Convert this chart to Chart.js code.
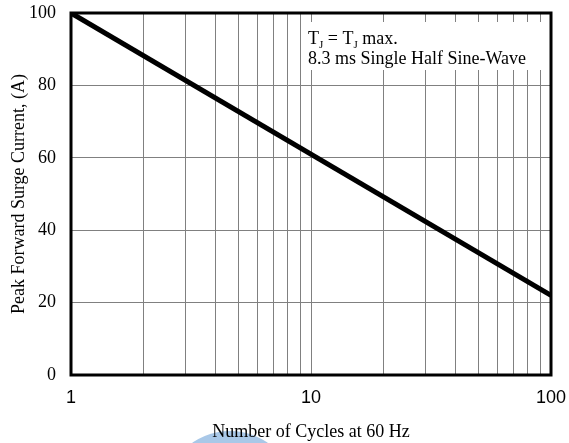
<!DOCTYPE html>
<html>
<head>
<meta charset="utf-8">
<script src="https://cdn.jsdelivr.net/npm/chart.js@4/dist/chart.umd.min.js"></script>
<style>
  html, body { margin: 0; padding: 0; background: #fff; }
  #wrap { width: 569px; height: 443px; }
</style>
</head>
<body>
<div id="wrap"><canvas id="myChart" width="569" height="443"></canvas></div>
<script>
// data
var cycles = [1, 100];
var surge = [100, 22];
var xTicks = [1, 2, 3, 4, 5, 6, 7, 8, 9, 10, 20, 30, 40, 50, 60, 70, 80, 90, 100];
var xLabels = [1, 10, 100];
var yTicks = [0, 20, 40, 60, 80, 100];
var noteLines = ['8.3 ms Single Half Sine-Wave'];

var serif = '"Liberation Serif", "Times New Roman", serif';
var sans = '"Liberation Sans", Arial, sans-serif';

var points = cycles.map(function(c, i) { return { x: c, y: surge[i] }; });

// blue blob behind the x title + frame + note box
var extras = {
    id: 'extras',
    beforeDraw: function(chart) {
        var c = chart.ctx;
        c.save();
        c.fillStyle = '#a9c8e8';
        c.beginPath();
        c.arc(230, 497, 66, 0, Math.PI * 2);
        c.fill();
        c.restore();
    },
    afterDatasetsDraw: function(chart) {
        var c = chart.ctx, a = chart.chartArea;
        c.save();
        // note box
        c.fillStyle = '#fff';
        c.fillRect(303, 22, 243, 48);
        c.fillStyle = '#000';
        c.font = '18px ' + serif;
        c.textBaseline = 'alphabetic';
        var x = 308, y = 44;
        c.fillText('T', x, y); x += c.measureText('T').width;
        c.font = '11px ' + serif;
        c.fillText('J', x, y + 4); x += c.measureText('J').width;
        c.font = '18px ' + serif;
        c.fillText(' = T', x, y); x += c.measureText(' = T').width;
        c.font = '11px ' + serif;
        c.fillText('J', x, y + 4); x += c.measureText('J').width;
        c.font = '18px ' + serif;
        c.fillText(' max.', x, y);
        c.fillText(noteLines[0], 308, 64);
        // frame
        c.strokeStyle = '#000';
        c.lineWidth = 3;
        c.strokeRect(a.left, a.top, a.right - a.left, a.bottom - a.top);
        c.restore();
    }
};

var myChart = new Chart(document.getElementById('myChart'), {
    type: 'line',
    data: {
        datasets: [{
            data: points,
            borderColor: '#000',
            borderWidth: 5,
            pointRadius: 0,
            fill: false,
            tension: 0
        }]
    },
    options: {
        responsive: false,
        animation: false,
        layout: { padding: { top: 13, right: 18, left: 0, bottom: 0 } },
        plugins: {
            legend: { display: false },
            tooltip: { enabled: false }
        },
        scales: {
            x: {
                type: 'logarithmic',
                min: 1,
                max: 100,
                afterBuildTicks: function(scale) {
                    scale.ticks = xTicks.map(function(v) { return { value: v }; });
                },
                afterFit: function(scale) {
                    scale.height = 68;
                    scale.paddingLeft = 0;
                    scale.paddingRight = 0;
                },
                grid: {
                    color: '#808080',
                    lineWidth: 1,
                    drawTicks: false
                },
                border: { display: false },
                ticks: {
                    autoSkip: false,
                    maxRotation: 0,
                    padding: 12,
                    color: '#000',
                    font: { family: sans, size: 18 },
                    callback: function(v) { return xLabels.indexOf(v) >= 0 ? String(v) : ''; }
                },
                title: {
                    display: true,
                    text: 'Number of Cycles at 60 Hz',
                    color: '#000',
                    font: { family: serif, size: 18 },
                    padding: { top: 0, bottom: 0 }
                }
            },
            y: {
                min: 0,
                max: 100,
                afterBuildTicks: function(scale) {
                    scale.ticks = yTicks.map(function(v) { return { value: v }; });
                },
                afterFit: function(scale) {
                    scale.width = 71;
                    scale.paddingTop = 0;
                    scale.paddingBottom = 0;
                },
                grid: {
                    color: '#808080',
                    lineWidth: 1,
                    drawTicks: false
                },
                border: { display: false },
                ticks: {
                    padding: 15,
                    color: '#000',
                    font: { family: serif, size: 18 }
                },
                title: {
                    display: true,
                    text: 'Peak Forward Surge Current, (A)',
                    color: '#000',
                    font: { family: serif, size: 18 },
                    padding: { top: 8, bottom: 0 }
                }
            }
        }
    },
    plugins: [extras]
});
</script>
</body>
</html>
